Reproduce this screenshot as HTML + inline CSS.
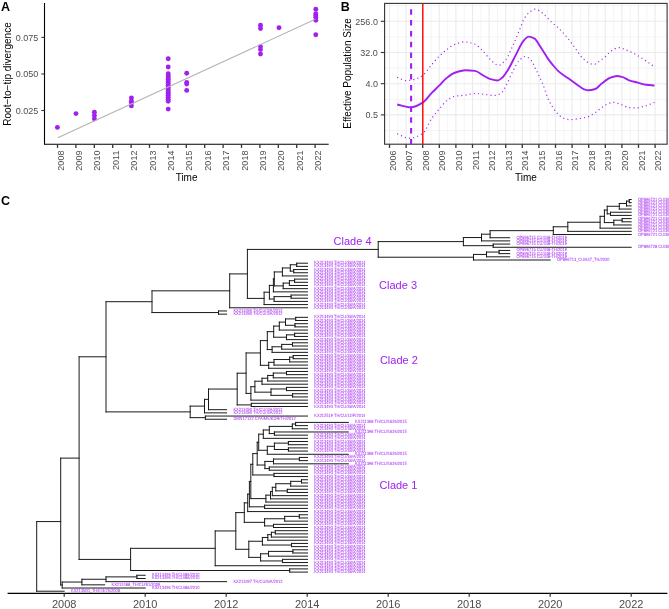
<!DOCTYPE html>
<html><head><meta charset="utf-8"><style>
html,body{margin:0;padding:0;background:#fff;}
body{width:669px;height:609px;overflow:hidden;}
svg{display:block;will-change:transform;font-family:"Liberation Sans",sans-serif;}
.lab{font-weight:bold;font-size:12.5px;fill:#000;}
.tk{font-size:9px;fill:#4d4d4d;}
.ttl{font-size:10px;fill:#000;}
.tl{text-rendering:geometricPrecision;font-size:4.6px;fill:#A020F0;}
.cl{font-size:11px;fill:#A020F0;}
.tx{font-size:11px;fill:#4d4d4d;}
</style></head><body>
<svg width="669" height="609" viewBox="0 0 669 609">
<text x="1" y="10.6" class="lab">A</text>
<line x1="44.5" y1="3" x2="44.5" y2="144.5" stroke="#000" stroke-width="1.1"/>
<line x1="44" y1="144.2" x2="328.7" y2="144.2" stroke="#000" stroke-width="1.1"/>
<line x1="41.4" y1="110.50" x2="44.5" y2="110.50" stroke="#333" stroke-width="1.1"/>
<text x="38.3" y="113.80" class="tk" text-anchor="end">0.025</text>
<line x1="41.4" y1="73.95" x2="44.5" y2="73.95" stroke="#333" stroke-width="1.1"/>
<text x="38.3" y="77.25" class="tk" text-anchor="end">0.050</text>
<line x1="41.4" y1="37.40" x2="44.5" y2="37.40" stroke="#333" stroke-width="1.1"/>
<text x="38.3" y="40.70" class="tk" text-anchor="end">0.075</text>
<line x1="57.50" y1="144.2" x2="57.50" y2="147.9" stroke="#333" stroke-width="1.3"/>
<text transform="translate(63.60,150.6) rotate(-90)" class="tk" text-anchor="end">2008</text>
<line x1="75.90" y1="144.2" x2="75.90" y2="147.9" stroke="#333" stroke-width="1.3"/>
<text transform="translate(82.00,150.6) rotate(-90)" class="tk" text-anchor="end">2009</text>
<line x1="94.30" y1="144.2" x2="94.30" y2="147.9" stroke="#333" stroke-width="1.3"/>
<text transform="translate(100.40,150.6) rotate(-90)" class="tk" text-anchor="end">2010</text>
<line x1="112.70" y1="144.2" x2="112.70" y2="147.9" stroke="#333" stroke-width="1.3"/>
<text transform="translate(118.80,150.6) rotate(-90)" class="tk" text-anchor="end">2011</text>
<line x1="131.10" y1="144.2" x2="131.10" y2="147.9" stroke="#333" stroke-width="1.3"/>
<text transform="translate(137.20,150.6) rotate(-90)" class="tk" text-anchor="end">2012</text>
<line x1="149.50" y1="144.2" x2="149.50" y2="147.9" stroke="#333" stroke-width="1.3"/>
<text transform="translate(155.60,150.6) rotate(-90)" class="tk" text-anchor="end">2013</text>
<line x1="167.90" y1="144.2" x2="167.90" y2="147.9" stroke="#333" stroke-width="1.3"/>
<text transform="translate(174.00,150.6) rotate(-90)" class="tk" text-anchor="end">2014</text>
<line x1="186.30" y1="144.2" x2="186.30" y2="147.9" stroke="#333" stroke-width="1.3"/>
<text transform="translate(192.40,150.6) rotate(-90)" class="tk" text-anchor="end">2015</text>
<line x1="204.70" y1="144.2" x2="204.70" y2="147.9" stroke="#333" stroke-width="1.3"/>
<text transform="translate(210.80,150.6) rotate(-90)" class="tk" text-anchor="end">2016</text>
<line x1="223.10" y1="144.2" x2="223.10" y2="147.9" stroke="#333" stroke-width="1.3"/>
<text transform="translate(229.20,150.6) rotate(-90)" class="tk" text-anchor="end">2017</text>
<line x1="241.50" y1="144.2" x2="241.50" y2="147.9" stroke="#333" stroke-width="1.3"/>
<text transform="translate(247.60,150.6) rotate(-90)" class="tk" text-anchor="end">2018</text>
<line x1="259.90" y1="144.2" x2="259.90" y2="147.9" stroke="#333" stroke-width="1.3"/>
<text transform="translate(266.00,150.6) rotate(-90)" class="tk" text-anchor="end">2019</text>
<line x1="278.30" y1="144.2" x2="278.30" y2="147.9" stroke="#333" stroke-width="1.3"/>
<text transform="translate(284.40,150.6) rotate(-90)" class="tk" text-anchor="end">2020</text>
<line x1="296.70" y1="144.2" x2="296.70" y2="147.9" stroke="#333" stroke-width="1.3"/>
<text transform="translate(302.80,150.6) rotate(-90)" class="tk" text-anchor="end">2021</text>
<line x1="315.10" y1="144.2" x2="315.10" y2="147.9" stroke="#333" stroke-width="1.3"/>
<text transform="translate(321.20,150.6) rotate(-90)" class="tk" text-anchor="end">2022</text>
<text x="186.6" y="181.2" class="ttl" text-anchor="middle">Time</text>
<text transform="translate(11,74) rotate(-90)" class="ttl" text-anchor="middle">Root−to−tip divergence</text>
<circle cx="57.4" cy="127.40" r="2.45" fill="#A020F0"/>
<circle cx="75.95" cy="113.60" r="2.45" fill="#A020F0"/>
<circle cx="94.4" cy="112.30" r="2.45" fill="#A020F0"/>
<circle cx="94.4" cy="115.60" r="2.45" fill="#A020F0"/>
<circle cx="94.4" cy="118.90" r="2.45" fill="#A020F0"/>
<circle cx="131.4" cy="97.90" r="2.45" fill="#A020F0"/>
<circle cx="131.4" cy="101.20" r="2.45" fill="#A020F0"/>
<circle cx="131.4" cy="102.40" r="2.45" fill="#A020F0"/>
<circle cx="131.4" cy="105.90" r="2.45" fill="#A020F0"/>
<circle cx="168.2" cy="58.80" r="2.45" fill="#A020F0"/>
<circle cx="168.2" cy="67.00" r="2.45" fill="#A020F0"/>
<circle cx="168.2" cy="73.70" r="2.45" fill="#A020F0"/>
<circle cx="168.2" cy="75.66" r="2.45" fill="#A020F0"/>
<circle cx="168.2" cy="77.63" r="2.45" fill="#A020F0"/>
<circle cx="168.2" cy="79.59" r="2.45" fill="#A020F0"/>
<circle cx="168.2" cy="81.56" r="2.45" fill="#A020F0"/>
<circle cx="168.2" cy="83.52" r="2.45" fill="#A020F0"/>
<circle cx="168.2" cy="85.49" r="2.45" fill="#A020F0"/>
<circle cx="168.2" cy="87.45" r="2.45" fill="#A020F0"/>
<circle cx="168.2" cy="89.41" r="2.45" fill="#A020F0"/>
<circle cx="168.2" cy="91.38" r="2.45" fill="#A020F0"/>
<circle cx="168.2" cy="93.34" r="2.45" fill="#A020F0"/>
<circle cx="168.2" cy="95.31" r="2.45" fill="#A020F0"/>
<circle cx="168.2" cy="97.27" r="2.45" fill="#A020F0"/>
<circle cx="168.2" cy="99.24" r="2.45" fill="#A020F0"/>
<circle cx="168.2" cy="101.20" r="2.45" fill="#A020F0"/>
<circle cx="168.2" cy="109.10" r="2.45" fill="#A020F0"/>
<circle cx="186.7" cy="73.30" r="2.45" fill="#A020F0"/>
<circle cx="186.7" cy="82.50" r="2.45" fill="#A020F0"/>
<circle cx="186.7" cy="84.10" r="2.45" fill="#A020F0"/>
<circle cx="186.7" cy="90.40" r="2.45" fill="#A020F0"/>
<circle cx="260.5" cy="25.30" r="2.45" fill="#A020F0"/>
<circle cx="260.5" cy="28.50" r="2.45" fill="#A020F0"/>
<circle cx="260.5" cy="46.60" r="2.45" fill="#A020F0"/>
<circle cx="260.5" cy="49.60" r="2.45" fill="#A020F0"/>
<circle cx="260.5" cy="54.00" r="2.45" fill="#A020F0"/>
<circle cx="279.0" cy="27.70" r="2.45" fill="#A020F0"/>
<circle cx="315.8" cy="9.30" r="2.45" fill="#A020F0"/>
<circle cx="315.8" cy="13.80" r="2.45" fill="#A020F0"/>
<circle cx="315.8" cy="15.50" r="2.45" fill="#A020F0"/>
<circle cx="315.8" cy="17.30" r="2.45" fill="#A020F0"/>
<circle cx="315.8" cy="20.30" r="2.45" fill="#A020F0"/>
<circle cx="315.8" cy="34.70" r="2.45" fill="#A020F0"/>
<line x1="57.8" y1="137.8" x2="315.3" y2="19.3" stroke="#b3b3b3" stroke-width="1.1"/>
<text x="340.8" y="10.8" class="lab">B</text>
<line x1="389.50" y1="3.4" x2="389.50" y2="144.2" stroke="#ebebeb" stroke-width="1.1"/>
<line x1="397.80" y1="3.4" x2="397.80" y2="144.2" stroke="#ebebeb" stroke-width="0.55"/>
<line x1="406.10" y1="3.4" x2="406.10" y2="144.2" stroke="#ebebeb" stroke-width="1.1"/>
<line x1="414.40" y1="3.4" x2="414.40" y2="144.2" stroke="#ebebeb" stroke-width="0.55"/>
<line x1="422.70" y1="3.4" x2="422.70" y2="144.2" stroke="#ebebeb" stroke-width="1.1"/>
<line x1="431.00" y1="3.4" x2="431.00" y2="144.2" stroke="#ebebeb" stroke-width="0.55"/>
<line x1="439.30" y1="3.4" x2="439.30" y2="144.2" stroke="#ebebeb" stroke-width="1.1"/>
<line x1="447.60" y1="3.4" x2="447.60" y2="144.2" stroke="#ebebeb" stroke-width="0.55"/>
<line x1="455.90" y1="3.4" x2="455.90" y2="144.2" stroke="#ebebeb" stroke-width="1.1"/>
<line x1="464.20" y1="3.4" x2="464.20" y2="144.2" stroke="#ebebeb" stroke-width="0.55"/>
<line x1="472.50" y1="3.4" x2="472.50" y2="144.2" stroke="#ebebeb" stroke-width="1.1"/>
<line x1="480.80" y1="3.4" x2="480.80" y2="144.2" stroke="#ebebeb" stroke-width="0.55"/>
<line x1="489.10" y1="3.4" x2="489.10" y2="144.2" stroke="#ebebeb" stroke-width="1.1"/>
<line x1="497.40" y1="3.4" x2="497.40" y2="144.2" stroke="#ebebeb" stroke-width="0.55"/>
<line x1="505.70" y1="3.4" x2="505.70" y2="144.2" stroke="#ebebeb" stroke-width="1.1"/>
<line x1="514.00" y1="3.4" x2="514.00" y2="144.2" stroke="#ebebeb" stroke-width="0.55"/>
<line x1="522.30" y1="3.4" x2="522.30" y2="144.2" stroke="#ebebeb" stroke-width="1.1"/>
<line x1="530.60" y1="3.4" x2="530.60" y2="144.2" stroke="#ebebeb" stroke-width="0.55"/>
<line x1="538.90" y1="3.4" x2="538.90" y2="144.2" stroke="#ebebeb" stroke-width="1.1"/>
<line x1="547.20" y1="3.4" x2="547.20" y2="144.2" stroke="#ebebeb" stroke-width="0.55"/>
<line x1="555.50" y1="3.4" x2="555.50" y2="144.2" stroke="#ebebeb" stroke-width="1.1"/>
<line x1="563.80" y1="3.4" x2="563.80" y2="144.2" stroke="#ebebeb" stroke-width="0.55"/>
<line x1="572.10" y1="3.4" x2="572.10" y2="144.2" stroke="#ebebeb" stroke-width="1.1"/>
<line x1="580.40" y1="3.4" x2="580.40" y2="144.2" stroke="#ebebeb" stroke-width="0.55"/>
<line x1="588.70" y1="3.4" x2="588.70" y2="144.2" stroke="#ebebeb" stroke-width="1.1"/>
<line x1="597.00" y1="3.4" x2="597.00" y2="144.2" stroke="#ebebeb" stroke-width="0.55"/>
<line x1="605.30" y1="3.4" x2="605.30" y2="144.2" stroke="#ebebeb" stroke-width="1.1"/>
<line x1="613.60" y1="3.4" x2="613.60" y2="144.2" stroke="#ebebeb" stroke-width="0.55"/>
<line x1="621.90" y1="3.4" x2="621.90" y2="144.2" stroke="#ebebeb" stroke-width="1.1"/>
<line x1="630.20" y1="3.4" x2="630.20" y2="144.2" stroke="#ebebeb" stroke-width="0.55"/>
<line x1="638.50" y1="3.4" x2="638.50" y2="144.2" stroke="#ebebeb" stroke-width="1.1"/>
<line x1="646.80" y1="3.4" x2="646.80" y2="144.2" stroke="#ebebeb" stroke-width="0.55"/>
<line x1="655.10" y1="3.4" x2="655.10" y2="144.2" stroke="#ebebeb" stroke-width="1.1"/>
<line x1="384.6" y1="5.70" x2="667.1" y2="5.70" stroke="#ebebeb" stroke-width="0.55"/>
<line x1="384.6" y1="21.30" x2="667.1" y2="21.30" stroke="#ebebeb" stroke-width="1.1"/>
<line x1="384.6" y1="36.90" x2="667.1" y2="36.90" stroke="#ebebeb" stroke-width="0.55"/>
<line x1="384.6" y1="52.50" x2="667.1" y2="52.50" stroke="#ebebeb" stroke-width="1.1"/>
<line x1="384.6" y1="68.10" x2="667.1" y2="68.10" stroke="#ebebeb" stroke-width="0.55"/>
<line x1="384.6" y1="83.70" x2="667.1" y2="83.70" stroke="#ebebeb" stroke-width="1.1"/>
<line x1="384.6" y1="99.30" x2="667.1" y2="99.30" stroke="#ebebeb" stroke-width="0.55"/>
<line x1="384.6" y1="114.90" x2="667.1" y2="114.90" stroke="#ebebeb" stroke-width="1.1"/>
<line x1="384.6" y1="130.50" x2="667.1" y2="130.50" stroke="#ebebeb" stroke-width="0.55"/>
<rect x="384.6" y="3.4" width="282.50" height="140.80" fill="none" stroke="#333" stroke-width="1.1"/>
<line x1="380.8" y1="21.3" x2="384.6" y2="21.3" stroke="#333" stroke-width="1.1"/>
<text x="377.9" y="24.60" class="tk" text-anchor="end">256.0</text>
<line x1="380.8" y1="52.5" x2="384.6" y2="52.5" stroke="#333" stroke-width="1.1"/>
<text x="377.9" y="55.80" class="tk" text-anchor="end">32.0</text>
<line x1="380.8" y1="83.7" x2="384.6" y2="83.7" stroke="#333" stroke-width="1.1"/>
<text x="377.9" y="87.00" class="tk" text-anchor="end">4.0</text>
<line x1="380.8" y1="114.9" x2="384.6" y2="114.9" stroke="#333" stroke-width="1.1"/>
<text x="377.9" y="118.20" class="tk" text-anchor="end">0.5</text>
<line x1="389.50" y1="144.2" x2="389.50" y2="147.9" stroke="#333" stroke-width="1.3"/>
<text transform="translate(395.60,150.6) rotate(-90)" class="tk" text-anchor="end">2006</text>
<line x1="406.10" y1="144.2" x2="406.10" y2="147.9" stroke="#333" stroke-width="1.3"/>
<text transform="translate(412.20,150.6) rotate(-90)" class="tk" text-anchor="end">2007</text>
<line x1="422.70" y1="144.2" x2="422.70" y2="147.9" stroke="#333" stroke-width="1.3"/>
<text transform="translate(428.80,150.6) rotate(-90)" class="tk" text-anchor="end">2008</text>
<line x1="439.30" y1="144.2" x2="439.30" y2="147.9" stroke="#333" stroke-width="1.3"/>
<text transform="translate(445.40,150.6) rotate(-90)" class="tk" text-anchor="end">2009</text>
<line x1="455.90" y1="144.2" x2="455.90" y2="147.9" stroke="#333" stroke-width="1.3"/>
<text transform="translate(462.00,150.6) rotate(-90)" class="tk" text-anchor="end">2010</text>
<line x1="472.50" y1="144.2" x2="472.50" y2="147.9" stroke="#333" stroke-width="1.3"/>
<text transform="translate(478.60,150.6) rotate(-90)" class="tk" text-anchor="end">2011</text>
<line x1="489.10" y1="144.2" x2="489.10" y2="147.9" stroke="#333" stroke-width="1.3"/>
<text transform="translate(495.20,150.6) rotate(-90)" class="tk" text-anchor="end">2012</text>
<line x1="505.70" y1="144.2" x2="505.70" y2="147.9" stroke="#333" stroke-width="1.3"/>
<text transform="translate(511.80,150.6) rotate(-90)" class="tk" text-anchor="end">2013</text>
<line x1="522.30" y1="144.2" x2="522.30" y2="147.9" stroke="#333" stroke-width="1.3"/>
<text transform="translate(528.40,150.6) rotate(-90)" class="tk" text-anchor="end">2014</text>
<line x1="538.90" y1="144.2" x2="538.90" y2="147.9" stroke="#333" stroke-width="1.3"/>
<text transform="translate(545.00,150.6) rotate(-90)" class="tk" text-anchor="end">2015</text>
<line x1="555.50" y1="144.2" x2="555.50" y2="147.9" stroke="#333" stroke-width="1.3"/>
<text transform="translate(561.60,150.6) rotate(-90)" class="tk" text-anchor="end">2016</text>
<line x1="572.10" y1="144.2" x2="572.10" y2="147.9" stroke="#333" stroke-width="1.3"/>
<text transform="translate(578.20,150.6) rotate(-90)" class="tk" text-anchor="end">2017</text>
<line x1="588.70" y1="144.2" x2="588.70" y2="147.9" stroke="#333" stroke-width="1.3"/>
<text transform="translate(594.80,150.6) rotate(-90)" class="tk" text-anchor="end">2018</text>
<line x1="605.30" y1="144.2" x2="605.30" y2="147.9" stroke="#333" stroke-width="1.3"/>
<text transform="translate(611.40,150.6) rotate(-90)" class="tk" text-anchor="end">2019</text>
<line x1="621.90" y1="144.2" x2="621.90" y2="147.9" stroke="#333" stroke-width="1.3"/>
<text transform="translate(628.00,150.6) rotate(-90)" class="tk" text-anchor="end">2020</text>
<line x1="638.50" y1="144.2" x2="638.50" y2="147.9" stroke="#333" stroke-width="1.3"/>
<text transform="translate(644.60,150.6) rotate(-90)" class="tk" text-anchor="end">2021</text>
<line x1="655.10" y1="144.2" x2="655.10" y2="147.9" stroke="#333" stroke-width="1.3"/>
<text transform="translate(661.20,150.6) rotate(-90)" class="tk" text-anchor="end">2022</text>
<text x="526" y="181.2" class="ttl" text-anchor="middle">Time</text>
<text transform="translate(351,73.5) rotate(-90)" class="ttl" text-anchor="middle">Effective Population Size</text>
<path d="M397.20,77.20 C400.13,78.33 403.07,80.60 406.00,80.60 C410.10,80.60 414.20,79.46 418.30,78.10 C419.80,77.60 421.30,76.49 422.80,75.30 C425.70,73.00 428.60,68.25 431.50,64.90 C434.03,61.97 436.57,58.89 439.10,56.40 C441.60,53.94 444.10,51.70 446.60,49.80 C449.13,47.87 451.67,45.70 454.20,44.70 C457.63,43.34 461.07,41.90 464.50,41.90 C468.00,41.90 471.50,42.94 475.00,44.20 C477.73,45.18 480.47,48.68 483.20,51.40 C485.60,53.79 488.00,57.52 490.40,59.60 C493.13,61.97 495.87,65.30 498.60,65.30 C501.00,65.30 503.40,62.32 505.80,59.60 C508.20,56.88 510.60,50.37 513.00,45.20 C515.07,40.75 517.13,35.69 519.20,30.80 C520.90,26.77 522.60,21.25 524.30,18.50 C526.00,15.75 527.70,13.52 529.40,12.30 C531.47,10.82 533.53,9.20 535.60,9.20 C538.00,9.20 540.40,11.64 542.80,13.40 C545.53,15.40 548.27,19.04 551.00,21.60 C553.73,24.16 556.47,26.14 559.20,28.80 C561.77,31.30 564.33,34.17 566.90,37.20 C568.63,39.24 570.37,41.48 572.10,43.80 C573.80,46.07 575.50,48.67 577.20,51.00 C578.93,53.37 580.67,56.21 582.40,57.90 C584.70,60.14 587.00,62.09 589.30,63.10 C590.73,63.73 592.17,64.50 593.60,64.50 C595.03,64.50 596.47,63.08 597.90,62.20 C600.20,60.79 602.50,59.00 604.80,57.10 C606.83,55.42 608.87,52.73 610.90,51.40 C613.47,49.72 616.03,47.60 618.60,47.60 C620.90,47.60 623.20,48.87 625.50,49.70 C628.37,50.74 631.23,52.11 634.10,53.60 C637.83,55.54 641.57,58.07 645.30,60.50 C648.37,62.49 651.43,64.70 654.50,66.80" fill="none" stroke="#A020F0" stroke-width="1.2" stroke-dasharray="1.1 3.1" />
<path d="M397.20,133.80 C401.30,135.27 405.40,138.20 409.50,138.20 C413.93,138.20 418.37,136.16 422.80,133.40 C425.70,131.59 428.60,122.85 431.50,118.70 C434.03,115.07 436.57,112.19 439.10,109.20 C441.60,106.25 444.10,102.71 446.60,100.80 C449.13,98.86 451.67,96.91 454.20,96.40 C457.97,95.64 461.73,95.62 465.50,95.10 C468.67,94.66 471.83,93.50 475.00,93.50 C478.43,93.50 481.87,94.15 485.30,94.50 C488.37,94.81 491.43,95.50 494.50,95.50 C496.57,95.50 498.63,94.60 500.70,93.50 C502.73,92.42 504.77,87.82 506.80,84.20 C508.87,80.52 510.93,74.77 513.00,70.90 C515.07,67.03 517.13,62.58 519.20,60.60 C521.23,58.66 523.27,56.50 525.30,56.50 C527.03,56.50 528.77,58.06 530.50,59.60 C532.53,61.41 534.57,66.86 536.60,70.90 C538.67,75.01 540.73,79.29 542.80,84.20 C544.87,89.11 546.93,96.59 549.00,100.70 C551.40,105.47 553.80,109.34 556.20,112.00 C558.57,114.63 560.93,117.17 563.30,118.10 C565.37,118.91 567.43,119.70 569.50,119.70 C572.67,119.70 575.83,119.06 579.00,118.60 C581.87,118.18 584.73,117.75 587.60,116.90 C589.90,116.22 592.20,114.56 594.50,113.10 C596.80,111.64 599.10,109.47 601.40,107.90 C603.70,106.33 606.00,104.37 608.30,103.60 C610.00,103.03 611.70,102.40 613.40,102.40 C616.00,102.40 618.60,103.67 621.20,104.50 C623.80,105.33 626.40,107.40 629.00,107.60 C631.30,107.78 633.60,107.90 635.90,107.90 C638.77,107.90 641.63,106.94 644.50,106.20 C647.83,105.34 651.17,103.67 654.50,102.40" fill="none" stroke="#A020F0" stroke-width="1.2" stroke-dasharray="1.1 3.1" />
<path d="M397.20,104.50 C401.73,105.47 406.27,107.40 410.80,107.40 C414.80,107.40 418.80,104.99 422.80,102.60 C425.70,100.86 428.60,96.19 431.50,93.20 C434.03,90.59 436.57,88.23 439.10,85.70 C441.60,83.20 444.10,80.12 446.60,78.10 C449.13,76.05 451.67,73.95 454.20,73.00 C457.97,71.59 461.73,70.20 465.50,70.20 C468.67,70.20 471.83,70.49 475.00,70.90 C478.07,71.30 481.13,74.39 484.20,76.00 C486.27,77.08 488.33,78.51 490.40,79.10 C492.80,79.78 495.20,80.50 497.60,80.50 C498.97,80.50 500.33,79.18 501.70,78.10 C503.77,76.47 505.83,73.09 507.90,69.90 C510.63,65.68 513.37,59.51 516.10,54.40 C518.50,49.92 520.90,43.78 523.30,41.10 C525.13,39.06 526.97,36.60 528.80,36.60 C530.73,36.60 532.67,37.53 534.60,38.60 C536.63,39.72 538.67,44.27 540.70,47.30 C543.10,50.88 545.50,55.22 547.90,58.60 C549.63,61.04 551.37,63.26 553.10,65.30 C555.13,67.70 557.17,70.13 559.20,71.90 C562.33,74.63 565.47,76.37 568.60,78.60 C571.47,80.64 574.33,82.73 577.20,84.70 C579.50,86.28 581.80,88.54 584.10,89.30 C585.53,89.78 586.97,90.30 588.40,90.30 C590.70,90.30 593.00,89.72 595.30,89.00 C597.33,88.36 599.37,85.37 601.40,83.80 C604.27,81.59 607.13,78.87 610.00,77.80 C612.30,76.94 614.60,76.00 616.90,76.00 C618.63,76.00 620.37,76.47 622.10,76.90 C624.40,77.48 626.70,79.49 629.00,80.30 C631.87,81.30 634.73,81.87 637.60,82.60 C640.47,83.33 643.33,84.30 646.20,84.70 C648.97,85.08 651.73,85.23 654.50,85.50" fill="none" stroke="#A020F0" stroke-width="1.9" stroke-linejoin="round"/>
<line x1="411.1" y1="9.3" x2="411.1" y2="144.2" stroke="#A020F0" stroke-width="2.1" stroke-dasharray="5.5 5.3"/>
<line x1="422.8" y1="3.4" x2="422.8" y2="144.2" stroke="#ff0000" stroke-width="1.4"/>
<text x="1" y="205" class="lab">C</text>
<path d="M36.70,521.57L36.70,591.21M36.70,521.57L60.70,521.57M60.70,458.11L60.70,585.04M60.70,458.11L79.10,458.11M79.10,356.79L79.10,559.42M79.10,356.79L106.00,356.79M106.00,301.70L106.00,411.88M106.00,301.70L152.00,301.70M152.00,290.84L152.00,312.55M152.00,290.84L229.70,290.84M229.70,273.91L229.70,307.78M229.70,273.91L247.40,273.91M247.40,249.42L247.40,298.40M247.40,249.42L378.20,249.42M378.20,241.61L378.20,257.22M378.20,241.61L463.40,241.61M463.40,237.54L463.40,245.68M463.40,237.54L481.50,237.54M481.50,234.19L481.50,240.90M481.50,234.19L490.10,234.19M490.10,230.66L490.10,237.72M490.10,230.66L553.30,230.66M553.30,226.79L553.30,234.53M553.30,226.79L567.80,226.79M567.80,222.24L567.80,231.35M567.80,222.24L600.10,222.24M600.10,216.32L600.10,228.16M600.10,216.32L604.40,216.32M604.40,210.05L604.40,222.59M604.40,210.05L607.20,210.05M607.20,206.27L607.20,213.83M607.20,206.27L619.30,206.27M619.30,203.48L619.30,209.05M619.30,203.48L626.50,203.48M626.50,201.09L626.50,205.87M626.50,201.09L629.30,201.09M629.30,199.50L629.30,202.68M629.30,199.50L631.20,199.50M629.30,202.68L631.20,202.68M626.50,205.87L631.20,205.87M619.30,209.05L631.20,209.05M607.20,213.83L610.50,213.83M610.50,212.24L610.50,215.42M610.50,212.24L631.20,212.24M610.50,215.42L631.20,215.42M604.40,222.59L613.80,222.59M613.80,220.20L613.80,224.98M613.80,220.20L622.10,220.20M622.10,218.61L622.10,221.79M622.10,218.61L631.20,218.61M622.10,221.79L631.20,221.79M613.80,224.98L631.20,224.98M600.10,228.16L631.20,228.16M567.80,231.35L631.20,231.35M553.30,234.53L631.20,234.53M490.10,237.72L509.70,237.72M481.50,240.90L509.70,240.90M463.40,245.68L493.20,245.68M493.20,244.08L493.20,247.27M493.20,244.08L509.70,244.08M493.20,247.27L631.20,247.27M378.20,257.22L473.50,257.22M473.50,254.43L473.50,260.01M473.50,254.43L486.50,254.43M486.50,252.05L486.50,256.82M486.50,252.05L499.10,252.05M499.10,250.45L499.10,253.64M499.10,250.45L509.70,250.45M499.10,253.64L509.70,253.64M486.50,256.82L509.70,256.82M473.50,260.01L550.20,260.01M247.40,298.40L264.10,298.40M264.10,292.20L264.10,304.59M264.10,292.20L269.40,292.20M269.40,285.38L269.40,299.02M269.40,285.38L273.40,285.38M273.40,278.92L273.40,291.85M273.40,278.92L274.30,278.92M274.30,271.95L274.30,285.88M274.30,271.95L282.40,271.95M282.40,267.97L282.40,275.93M282.40,267.97L290.30,267.97M290.30,264.78L290.30,271.15M290.30,264.78L296.70,264.78M296.70,263.19L296.70,266.38M296.70,263.19L307.50,263.19M296.70,266.38L307.50,266.38M290.30,271.15L293.70,271.15M293.70,269.56L293.70,272.75M293.70,269.56L307.50,269.56M293.70,272.75L307.50,272.75M282.40,275.93L307.50,275.93M274.30,285.88L283.20,285.88M283.20,283.10L283.20,288.67M283.20,283.10L289.40,283.10M289.40,280.71L289.40,285.48M289.40,280.71L294.60,280.71M294.60,279.12L294.60,282.30M294.60,279.12L307.50,279.12M294.60,282.30L307.50,282.30M289.40,285.48L307.50,285.48M283.20,288.67L307.50,288.67M273.40,291.85L307.50,291.85M269.40,299.02L274.10,299.02M274.10,296.63L274.10,301.41M274.10,296.63L291.10,296.63M291.10,295.04L291.10,298.22M291.10,295.04L307.50,295.04M291.10,298.22L307.50,298.22M274.10,301.41L307.50,301.41M264.10,304.59L307.50,304.59M229.70,307.78L307.50,307.78M152.00,312.55L218.50,312.55M218.50,310.96L218.50,314.15M218.50,310.96L226.60,310.96M218.50,314.15L226.60,314.15M106.00,411.88L190.20,411.88M190.20,406.12L190.20,417.65M190.20,406.12L204.50,406.12M204.50,399.36L204.50,412.87M204.50,399.36L208.50,399.36M208.50,389.05L208.50,409.68M208.50,389.05L237.20,389.05M237.20,373.19L237.20,404.91M237.20,373.19L246.10,373.19M246.10,352.96L246.10,393.41M246.10,352.96L260.40,352.96M260.40,340.62L260.40,365.30M260.40,340.62L267.30,340.62M267.30,331.66L267.30,349.57M267.30,331.66L273.70,331.66M273.70,326.09L273.70,337.23M273.70,326.09L279.30,326.09M279.30,322.11L279.30,330.07M279.30,322.11L285.50,322.11M285.50,318.92L285.50,325.29M285.50,318.92L295.70,318.92M295.70,317.33L295.70,320.51M295.70,317.33L307.50,317.33M295.70,320.51L307.50,320.51M285.50,325.29L295.00,325.29M295.00,323.70L295.00,326.88M295.00,323.70L307.50,323.70M295.00,326.88L307.50,326.88M279.30,330.07L307.50,330.07M273.70,337.23L286.50,337.23M286.50,334.85L286.50,339.62M286.50,334.85L294.60,334.85M294.60,333.25L294.60,336.44M294.60,333.25L307.50,333.25M294.60,336.44L307.50,336.44M286.50,339.62L307.50,339.62M267.30,349.57L272.10,349.57M272.10,346.79L272.10,352.36M272.10,346.79L281.70,346.79M281.70,344.40L281.70,349.18M281.70,344.40L292.50,344.40M292.50,342.81L292.50,345.99M292.50,342.81L307.50,342.81M292.50,345.99L307.50,345.99M281.70,349.18L307.50,349.18M272.10,352.36L307.50,352.36M260.40,365.30L268.70,365.30M268.70,362.31L268.70,368.28M268.70,362.31L274.00,362.31M274.00,359.53L274.00,365.10M274.00,359.53L289.70,359.53M289.70,357.14L289.70,361.91M289.70,357.14L293.20,357.14M293.20,355.55L293.20,358.73M293.20,355.55L307.50,355.55M293.20,358.73L307.50,358.73M289.70,361.91L307.50,361.91M274.00,365.10L307.50,365.10M268.70,368.28L307.50,368.28M246.10,393.41L250.90,393.41M250.90,386.69L250.90,400.13M250.90,386.69L254.90,386.69M254.90,381.22L254.90,392.17M254.90,381.22L262.00,381.22M262.00,378.24L262.00,384.21M262.00,378.24L267.70,378.24M267.70,375.45L267.70,381.02M267.70,375.45L273.30,375.45M273.30,373.06L273.30,377.84M273.30,373.06L286.50,373.06M286.50,371.47L286.50,374.65M286.50,371.47L307.50,371.47M286.50,374.65L307.50,374.65M273.30,377.84L307.50,377.84M267.70,381.02L307.50,381.02M262.00,384.21L307.50,384.21M254.90,392.17L271.00,392.17M271.00,388.98L271.00,395.35M271.00,388.98L286.50,388.98M286.50,387.39L286.50,390.58M286.50,387.39L307.50,387.39M286.50,390.58L307.50,390.58M271.00,395.35L292.60,395.35M292.60,393.76L292.60,396.95M292.60,393.76L307.50,393.76M292.60,396.95L307.50,396.95M250.90,400.13L307.50,400.13M237.20,404.91L251.30,404.91M251.30,403.31L251.30,406.50M251.30,403.31L307.50,403.31M251.30,406.50L307.50,406.50M208.50,409.68L226.60,409.68M204.50,412.87L226.60,412.87M190.20,417.65L205.40,417.65M205.40,416.05L205.40,419.24M205.40,416.05L307.50,416.05M205.40,419.24L226.60,419.24M79.10,559.42L130.60,559.42M130.60,548.34L130.60,570.51M130.60,548.34L215.20,548.34M215.20,530.95L215.20,565.73M215.20,530.95L235.80,530.95M235.80,512.60L235.80,549.31M235.80,512.60L244.30,512.60M244.30,502.86L244.30,522.34M244.30,502.86L247.70,502.86M247.70,494.13L247.70,511.59M247.70,494.13L249.40,494.13M249.40,481.45L249.40,506.81M249.40,481.45L250.80,481.45M250.80,464.29L250.80,498.60M250.80,464.29L252.80,464.29M252.80,453.62L252.80,474.97M252.80,453.62L257.20,453.62M257.20,442.23L257.20,465.02M257.20,442.23L258.70,442.23M258.70,434.17L258.70,450.29M258.70,434.17L263.30,434.17M263.30,429.99L263.30,438.35M263.30,429.99L269.30,429.99M269.30,426.40L269.30,433.57M269.30,426.40L292.30,426.40M292.30,424.01L292.30,428.79M292.30,424.01L295.60,424.01M295.60,422.42L295.60,425.61M295.60,422.42L348.30,422.42M295.60,425.61L307.50,425.61M292.30,428.79L307.50,428.79M269.30,433.57L274.40,433.57M274.40,431.98L274.40,435.16M274.40,431.98L348.30,431.98M274.40,435.16L307.50,435.16M263.30,438.35L307.50,438.35M258.70,450.29L267.30,450.29M267.30,446.31L267.30,454.27M267.30,446.31L274.40,446.31M274.40,443.12L274.40,449.49M274.40,443.12L288.40,443.12M288.40,441.53L288.40,444.71M288.40,441.53L307.50,441.53M288.40,444.71L307.50,444.71M274.40,449.49L288.40,449.49M288.40,447.90L288.40,451.08M288.40,447.90L307.50,447.90M288.40,451.08L307.50,451.08M267.30,454.27L348.30,454.27M257.20,465.02L264.90,465.02M264.90,461.43L264.90,468.60M264.90,461.43L273.50,461.43M273.50,459.04L273.50,463.82M273.50,459.04L299.40,459.04M299.40,457.45L299.40,460.64M299.40,457.45L307.50,457.45M299.40,460.64L307.50,460.64M273.50,463.82L348.30,463.82M264.90,468.60L269.30,468.60M269.30,467.01L269.30,470.19M269.30,467.01L307.50,467.01M269.30,470.19L307.50,470.19M252.80,474.97L274.00,474.97M274.00,473.38L274.00,476.56M274.00,473.38L307.50,473.38M274.00,476.56L307.50,476.56M250.80,498.60L265.90,498.60M265.90,495.17L265.90,502.04M265.90,495.17L270.50,495.17M270.50,491.49L270.50,498.85M270.50,491.49L272.30,491.49M272.30,487.31L272.30,495.67M272.30,487.31L275.80,487.31M275.80,483.73L275.80,490.89M275.80,483.73L290.70,483.73M290.70,481.34L290.70,486.11M290.70,481.34L301.50,481.34M301.50,479.74L301.50,482.93M301.50,479.74L307.50,479.74M301.50,482.93L307.50,482.93M290.70,486.11L307.50,486.11M275.80,490.89L287.30,490.89M287.30,489.30L287.30,492.48M287.30,489.30L307.50,489.30M287.30,492.48L307.50,492.48M272.30,495.67L307.50,495.67M270.50,498.85L307.50,498.85M265.90,502.04L307.50,502.04M249.40,506.81L264.60,506.81M264.60,505.22L264.60,508.41M264.60,505.22L307.50,505.22M264.60,508.41L307.50,508.41M247.70,511.59L307.50,511.59M244.30,522.34L264.60,522.34M264.60,518.76L264.60,525.92M264.60,518.76L284.70,518.76M284.70,516.37L284.70,521.14M284.70,516.37L299.30,516.37M299.30,514.78L299.30,517.96M299.30,514.78L307.50,514.78M299.30,517.96L307.50,517.96M284.70,521.14L307.50,521.14M264.60,525.92L273.50,525.92M273.50,524.33L273.50,527.51M273.50,524.33L307.50,524.33M273.50,527.51L307.50,527.51M235.80,549.31L248.80,549.31M248.80,541.25L248.80,557.37M248.80,541.25L262.40,541.25M262.40,537.47L262.40,545.03M262.40,537.47L267.80,537.47M267.80,534.68L267.80,540.25M267.80,534.68L271.40,534.68M271.40,532.29L271.40,537.07M271.40,532.29L275.30,532.29M275.30,530.70L275.30,533.88M275.30,530.70L307.50,530.70M275.30,533.88L307.50,533.88M271.40,537.07L307.50,537.07M267.80,540.25L307.50,540.25M262.40,545.03L291.50,545.03M291.50,543.44L291.50,546.62M291.50,543.44L307.50,543.44M291.50,546.62L307.50,546.62M248.80,557.37L260.60,557.37M260.60,553.79L260.60,560.95M260.60,553.79L268.50,553.79M268.50,551.40L268.50,556.18M268.50,551.40L292.90,551.40M292.90,549.81L292.90,552.99M292.90,549.81L307.50,549.81M292.90,552.99L307.50,552.99M268.50,556.18L307.50,556.18M260.60,560.95L282.50,560.95M282.50,559.36L282.50,562.54M282.50,559.36L307.50,559.36M282.50,562.54L307.50,562.54M215.20,565.73L307.50,565.73M130.60,570.51L289.70,570.51M289.70,568.91L289.70,572.10M289.70,568.91L307.50,568.91M289.70,572.10L307.50,572.10M60.70,585.04L62.20,585.04M62.20,582.05L62.20,588.02M62.20,582.05L81.90,582.05M81.90,579.26L81.90,584.84M81.90,579.26L106.00,579.26M106.00,576.88L106.00,581.65M106.00,576.88L136.90,576.88M136.90,575.28L136.90,578.47M136.90,575.28L145.20,575.28M136.90,578.47L145.20,578.47M106.00,581.65L226.60,581.65M81.90,584.84L104.70,584.84M62.20,588.02L145.20,588.02M36.70,591.21L64.20,591.21" stroke="#1a1a1a" stroke-width="1" fill="none" stroke-linecap="square"/>
<defs><filter id="bl" x="-5%" y="-5%" width="110%" height="110%"><feGaussianBlur stdDeviation="0.9"/></filter></defs>
<g>
<text transform="translate(638.00,200.50) scale(0.87,1)" class="tl">OP896721 CU/3647 TH/A/2022</text>
<text transform="translate(638.00,203.68) scale(0.87,1)" class="tl">OP896721 CU/3647 TH/A/2022</text>
<text transform="translate(638.00,206.87) scale(0.87,1)" class="tl">OP896721 CU/3647 TH/A/2022</text>
<text transform="translate(638.00,210.05) scale(0.87,1)" class="tl">OP896721 CU/3647 TH/A/2022</text>
<text transform="translate(638.00,213.24) scale(0.87,1)" class="tl">OP896721 CU/3647 TH/A/2022</text>
<text transform="translate(638.00,216.42) scale(0.87,1)" class="tl">OP896721 CU/3647 TH/A/2022</text>
<text transform="translate(638.00,219.61) scale(0.87,1)" class="tl">OP896721 CU/3647 TH/A/2022</text>
<text transform="translate(638.00,222.79) scale(0.87,1)" class="tl">OP896721 CU/3647 TH/A/2022</text>
<text transform="translate(638.00,225.98) scale(0.87,1)" class="tl">OP896721 CU/3647 TH/A/2022</text>
<text transform="translate(638.00,229.16) scale(0.87,1)" class="tl">OP896721 CU/3647 TH/A/2022</text>
<text transform="translate(638.00,232.35) scale(0.87,1)" class="tl">OP896721 CU/3647 TH/A/2022</text>
<text transform="translate(638.00,235.53) scale(0.87,1)" class="tl">OP896721 CU/3647 TH/A/2022</text>
<text transform="translate(516.50,238.72) scale(0.87,1)" class="tl">OP896715 CU/348-TH/2019</text>
<text transform="translate(516.50,241.90) scale(0.87,1)" class="tl">OP896715 CU/348-TH/2019</text>
<text transform="translate(516.50,245.08) scale(0.87,1)" class="tl">OP896715 CU/348-TH/2019</text>
<text transform="translate(638.00,248.27) scale(0.87,1)" class="tl">OP896728 CU/3647 TH/A/2022</text>
<text transform="translate(516.50,251.45) scale(0.87,1)" class="tl">OP896715 CU/348-TH/2019</text>
<text transform="translate(516.50,254.64) scale(0.87,1)" class="tl">OP896715 CU/348-TH/2019</text>
<text transform="translate(516.50,257.82) scale(0.87,1)" class="tl">OP896715 CU/348-TH/2019</text>
<text transform="translate(557.00,261.01) scale(0.87,1)" class="tl">OP896713_CU/647_TH/2020</text>
<text transform="translate(314.30,264.19) scale(0.87,1)" class="tl">KX213493 TH/CU/38/A/2014</text>
<text transform="translate(314.30,267.38) scale(0.87,1)" class="tl">KX213493 TH/CU/38/A/2014</text>
<text transform="translate(314.30,270.56) scale(0.87,1)" class="tl">KX213493 TH/CU/38/A/2014</text>
<text transform="translate(314.30,273.75) scale(0.87,1)" class="tl">KX213493 TH/CU/38/A/2014</text>
<text transform="translate(314.30,276.93) scale(0.87,1)" class="tl">KX213493 TH/CU/38/A/2014</text>
<text transform="translate(314.30,280.12) scale(0.87,1)" class="tl">KX213493 TH/CU/38/A/2014</text>
<text transform="translate(314.30,283.30) scale(0.87,1)" class="tl">KX213493 TH/CU/38/A/2014</text>
<text transform="translate(314.30,286.48) scale(0.87,1)" class="tl">KX213493 TH/CU/38/A/2014</text>
<text transform="translate(314.30,289.67) scale(0.87,1)" class="tl">KX213493 TH/CU/38/A/2014</text>
<text transform="translate(314.30,292.85) scale(0.87,1)" class="tl">KX213493 TH/CU/38/A/2014</text>
<text transform="translate(314.30,296.04) scale(0.87,1)" class="tl">KX213493 TH/CU/38/A/2014</text>
<text transform="translate(314.30,299.22) scale(0.87,1)" class="tl">KX213493 TH/CU/38/A/2014</text>
<text transform="translate(314.30,302.41) scale(0.87,1)" class="tl">KX213493 TH/CU/38/A/2014</text>
<text transform="translate(314.30,305.59) scale(0.87,1)" class="tl">KX213493 TH/CU/38/A/2014</text>
<text transform="translate(314.30,308.78) scale(0.87,1)" class="tl">KX213493 TH/CU/38/A/2014</text>
<text transform="translate(233.40,311.96) scale(0.87,1)" class="tl">KX213490 TH/CU/3/A/2012</text>
<text transform="translate(233.40,315.15) scale(0.87,1)" class="tl">KX213490 TH/CU/3/A/2012</text>
<text transform="translate(314.30,318.33) scale(0.87,1)" class="tl">KX213493 TH/CU/38/A/2014</text>
<text transform="translate(314.30,321.51) scale(0.87,1)" class="tl">KX213493 TH/CU/38/A/2014</text>
<text transform="translate(314.30,324.70) scale(0.87,1)" class="tl">KX213493 TH/CU/38/A/2014</text>
<text transform="translate(314.30,327.88) scale(0.87,1)" class="tl">KX213493 TH/CU/38/A/2014</text>
<text transform="translate(314.30,331.07) scale(0.87,1)" class="tl">KX213493 TH/CU/38/A/2014</text>
<text transform="translate(314.30,334.25) scale(0.87,1)" class="tl">KX213493 TH/CU/38/A/2014</text>
<text transform="translate(314.30,337.44) scale(0.87,1)" class="tl">KX213493 TH/CU/38/A/2014</text>
<text transform="translate(314.30,340.62) scale(0.87,1)" class="tl">KX213493 TH/CU/38/A/2014</text>
<text transform="translate(314.30,343.81) scale(0.87,1)" class="tl">KX213493 TH/CU/38/A/2014</text>
<text transform="translate(314.30,346.99) scale(0.87,1)" class="tl">KX213493 TH/CU/38/A/2014</text>
<text transform="translate(314.30,350.18) scale(0.87,1)" class="tl">KX213493 TH/CU/38/A/2014</text>
<text transform="translate(314.30,353.36) scale(0.87,1)" class="tl">KX213493 TH/CU/38/A/2014</text>
<text transform="translate(314.30,356.55) scale(0.87,1)" class="tl">KX213493 TH/CU/38/A/2014</text>
<text transform="translate(314.30,359.73) scale(0.87,1)" class="tl">KX213493 TH/CU/38/A/2014</text>
<text transform="translate(314.30,362.91) scale(0.87,1)" class="tl">KX213493 TH/CU/38/A/2014</text>
<text transform="translate(314.30,366.10) scale(0.87,1)" class="tl">KX213493 TH/CU/38/A/2014</text>
<text transform="translate(314.30,369.28) scale(0.87,1)" class="tl">KX213493 TH/CU/38/A/2014</text>
<text transform="translate(314.30,372.47) scale(0.87,1)" class="tl">KX213493 TH/CU/38/A/2014</text>
<text transform="translate(314.30,375.65) scale(0.87,1)" class="tl">KX213493 TH/CU/38/A/2014</text>
<text transform="translate(314.30,378.84) scale(0.87,1)" class="tl">KX213493 TH/CU/38/A/2014</text>
<text transform="translate(314.30,382.02) scale(0.87,1)" class="tl">KX213493 TH/CU/38/A/2014</text>
<text transform="translate(314.30,385.21) scale(0.87,1)" class="tl">KX213493 TH/CU/38/A/2014</text>
<text transform="translate(314.30,388.39) scale(0.87,1)" class="tl">KX213493 TH/CU/38/A/2014</text>
<text transform="translate(314.30,391.58) scale(0.87,1)" class="tl">KX213493 TH/CU/38/A/2014</text>
<text transform="translate(314.30,394.76) scale(0.87,1)" class="tl">KX213493 TH/CU/38/A/2014</text>
<text transform="translate(314.30,397.95) scale(0.87,1)" class="tl">KX213493 TH/CU/38/A/2014</text>
<text transform="translate(314.30,401.13) scale(0.87,1)" class="tl">KX213493 TH/CU/38/A/2014</text>
<text transform="translate(314.30,404.31) scale(0.87,1)" class="tl">KX213493 TH/CU/38/A/2014</text>
<text transform="translate(314.30,407.50) scale(0.87,1)" class="tl">KX213493 TH/CU/38/A/2014</text>
<text transform="translate(233.40,410.68) scale(0.87,1)" class="tl">KX213490 TH/CU/3/A/2012</text>
<text transform="translate(233.40,413.87) scale(0.87,1)" class="tl">KX213490 TH/CU/3/A/2012</text>
<text transform="translate(314.30,417.05) scale(0.87,1)" class="tl">KX212519 TH/CU/12/F/2014</text>
<text transform="translate(233.40,420.24) scale(0.87,1)" class="tl">DMN17122 CYA/MS/KDR/TH/2012</text>
<text transform="translate(355.10,423.42) scale(0.87,1)" class="tl">KX211398 TH/CU/1626/2015</text>
<text transform="translate(314.30,426.61) scale(0.87,1)" class="tl">KX213493 TH/CU/38/A/2014</text>
<text transform="translate(314.30,429.79) scale(0.87,1)" class="tl">KX213493 TH/CU/38/A/2014</text>
<text transform="translate(355.10,432.98) scale(0.87,1)" class="tl">KX211398 TH/CU/1626/2015</text>
<text transform="translate(314.30,436.16) scale(0.87,1)" class="tl">KX213493 TH/CU/38/A/2014</text>
<text transform="translate(314.30,439.35) scale(0.87,1)" class="tl">KX213493 TH/CU/38/A/2014</text>
<text transform="translate(314.30,442.53) scale(0.87,1)" class="tl">KX213493 TH/CU/38/A/2014</text>
<text transform="translate(314.30,445.71) scale(0.87,1)" class="tl">KX213493 TH/CU/38/A/2014</text>
<text transform="translate(314.30,448.90) scale(0.87,1)" class="tl">KX213493 TH/CU/38/A/2014</text>
<text transform="translate(314.30,452.08) scale(0.87,1)" class="tl">KX213493 TH/CU/38/A/2014</text>
<text transform="translate(355.10,455.27) scale(0.87,1)" class="tl">KX211398 TH/CU/1626/2015</text>
<text transform="translate(314.30,458.45) scale(0.87,1)" class="tl">KX213493 TH/CU/38/A/2014</text>
<text transform="translate(314.30,461.64) scale(0.87,1)" class="tl">KX213493 TH/CU/38/A/2014</text>
<text transform="translate(355.10,464.82) scale(0.87,1)" class="tl">KX211398 TH/CU/1626/2015</text>
<text transform="translate(314.30,468.01) scale(0.87,1)" class="tl">KX213493 TH/CU/38/A/2014</text>
<text transform="translate(314.30,471.19) scale(0.87,1)" class="tl">KX213493 TH/CU/38/A/2014</text>
<text transform="translate(314.30,474.38) scale(0.87,1)" class="tl">KX213493 TH/CU/38/A/2014</text>
<text transform="translate(314.30,477.56) scale(0.87,1)" class="tl">KX213493 TH/CU/38/A/2014</text>
<text transform="translate(314.30,480.74) scale(0.87,1)" class="tl">KX213493 TH/CU/38/A/2014</text>
<text transform="translate(314.30,483.93) scale(0.87,1)" class="tl">KX213493 TH/CU/38/A/2014</text>
<text transform="translate(314.30,487.11) scale(0.87,1)" class="tl">KX213493 TH/CU/38/A/2014</text>
<text transform="translate(314.30,490.30) scale(0.87,1)" class="tl">KX213493 TH/CU/38/A/2014</text>
<text transform="translate(314.30,493.48) scale(0.87,1)" class="tl">KX213493 TH/CU/38/A/2014</text>
<text transform="translate(314.30,496.67) scale(0.87,1)" class="tl">KX213493 TH/CU/38/A/2014</text>
<text transform="translate(314.30,499.85) scale(0.87,1)" class="tl">KX213493 TH/CU/38/A/2014</text>
<text transform="translate(314.30,503.04) scale(0.87,1)" class="tl">KX213493 TH/CU/38/A/2014</text>
<text transform="translate(314.30,506.22) scale(0.87,1)" class="tl">KX213493 TH/CU/38/A/2014</text>
<text transform="translate(314.30,509.41) scale(0.87,1)" class="tl">KX213493 TH/CU/38/A/2014</text>
<text transform="translate(314.30,512.59) scale(0.87,1)" class="tl">KX213493 TH/CU/38/A/2014</text>
<text transform="translate(314.30,515.78) scale(0.87,1)" class="tl">KX213493 TH/CU/38/A/2014</text>
<text transform="translate(314.30,518.96) scale(0.87,1)" class="tl">KX213493 TH/CU/38/A/2014</text>
<text transform="translate(314.30,522.14) scale(0.87,1)" class="tl">KX213493 TH/CU/38/A/2014</text>
<text transform="translate(314.30,525.33) scale(0.87,1)" class="tl">KX213493 TH/CU/38/A/2014</text>
<text transform="translate(314.30,528.51) scale(0.87,1)" class="tl">KX213493 TH/CU/38/A/2014</text>
<text transform="translate(314.30,531.70) scale(0.87,1)" class="tl">KX213493 TH/CU/38/A/2014</text>
<text transform="translate(314.30,534.88) scale(0.87,1)" class="tl">KX213493 TH/CU/38/A/2014</text>
<text transform="translate(314.30,538.07) scale(0.87,1)" class="tl">KX213493 TH/CU/38/A/2014</text>
<text transform="translate(314.30,541.25) scale(0.87,1)" class="tl">KX213493 TH/CU/38/A/2014</text>
<text transform="translate(314.30,544.44) scale(0.87,1)" class="tl">KX213493 TH/CU/38/A/2014</text>
<text transform="translate(314.30,547.62) scale(0.87,1)" class="tl">KX213493 TH/CU/38/A/2014</text>
<text transform="translate(314.30,550.81) scale(0.87,1)" class="tl">KX213493 TH/CU/38/A/2014</text>
<text transform="translate(314.30,553.99) scale(0.87,1)" class="tl">KX213493 TH/CU/38/A/2014</text>
<text transform="translate(314.30,557.18) scale(0.87,1)" class="tl">KX213493 TH/CU/38/A/2014</text>
<text transform="translate(314.30,560.36) scale(0.87,1)" class="tl">KX213493 TH/CU/38/A/2014</text>
<text transform="translate(314.30,563.54) scale(0.87,1)" class="tl">KX213493 TH/CU/38/A/2014</text>
<text transform="translate(314.30,566.73) scale(0.87,1)" class="tl">KX213493 TH/CU/38/A/2014</text>
<text transform="translate(314.30,569.91) scale(0.87,1)" class="tl">KX213493 TH/CU/38/A/2014</text>
<text transform="translate(314.30,573.10) scale(0.87,1)" class="tl">KX213493 TH/CU/38/A/2014</text>
<text transform="translate(152.00,576.28) scale(0.87,1)" class="tl">KX213496 TH/CU/86/2010</text>
<text transform="translate(152.00,579.47) scale(0.87,1)" class="tl">KX213496 TH/CU/86/2010</text>
<text transform="translate(233.40,582.65) scale(0.87,1)" class="tl">KX213497 TH/CU/6/A/2012</text>
<text transform="translate(111.50,585.84) scale(0.87,1)" class="tl">KX212488_TH/CU/61/2009</text>
<text transform="translate(152.00,589.02) scale(0.87,1)" class="tl">KX213496 TH/CU/86/2010</text>
<text transform="translate(71.00,592.21) scale(0.87,1)" class="tl">KX213500_TH/E/3/25/2008</text>
</g>
<text x="333.6" y="244.6" class="cl">Clade 4</text>
<text x="379.1" y="289.3" class="cl">Clade 3</text>
<text x="379.9" y="363.8" class="cl">Clade 2</text>
<text x="379.5" y="489" class="cl">Clade 1</text>
<line x1="7.6" y1="593.3" x2="667.4" y2="593.3" stroke="#000" stroke-width="1.3"/>
<line x1="64.20" y1="593.3" x2="64.20" y2="596.8" stroke="#333" stroke-width="1.2"/>
<text x="64.20" y="607.9" class="tx" text-anchor="middle">2008</text>
<line x1="145.20" y1="593.3" x2="145.20" y2="596.8" stroke="#333" stroke-width="1.2"/>
<text x="145.20" y="607.9" class="tx" text-anchor="middle">2010</text>
<line x1="226.20" y1="593.3" x2="226.20" y2="596.8" stroke="#333" stroke-width="1.2"/>
<text x="226.20" y="607.9" class="tx" text-anchor="middle">2012</text>
<line x1="307.20" y1="593.3" x2="307.20" y2="596.8" stroke="#333" stroke-width="1.2"/>
<text x="307.20" y="607.9" class="tx" text-anchor="middle">2014</text>
<line x1="388.20" y1="593.3" x2="388.20" y2="596.8" stroke="#333" stroke-width="1.2"/>
<text x="388.20" y="607.9" class="tx" text-anchor="middle">2016</text>
<line x1="469.20" y1="593.3" x2="469.20" y2="596.8" stroke="#333" stroke-width="1.2"/>
<text x="469.20" y="607.9" class="tx" text-anchor="middle">2018</text>
<line x1="550.20" y1="593.3" x2="550.20" y2="596.8" stroke="#333" stroke-width="1.2"/>
<text x="550.20" y="607.9" class="tx" text-anchor="middle">2020</text>
<line x1="631.20" y1="593.3" x2="631.20" y2="596.8" stroke="#333" stroke-width="1.2"/>
<text x="631.20" y="607.9" class="tx" text-anchor="middle">2022</text>
</svg>
</body></html>
